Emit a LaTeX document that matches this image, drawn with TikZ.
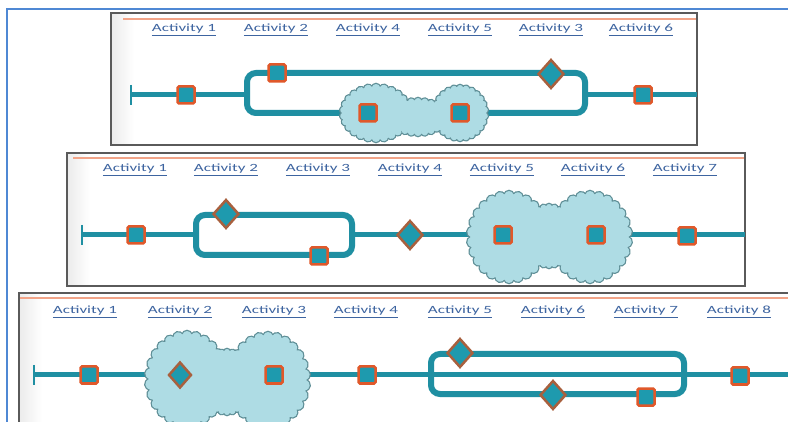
\documentclass[tikz,border=0pt]{standalone}
\usepackage{fontspec}
\newfontfamily\labfont[FakeStretch=1.55]{Carlito}
\usetikzlibrary{shapes.geometric,shapes.symbols}
\definecolor{teal1}{HTML}{1F8FA2}
\definecolor{sqfill}{HTML}{1E9AAE}
\definecolor{orng}{HTML}{E0582A}
\definecolor{dmd}{HTML}{A8603E}
\definecolor{cloudfill}{HTML}{AEDCE4}
\definecolor{cloudline}{HTML}{5E8E96}
\definecolor{boxline}{HTML}{5A5A5A}
\definecolor{labcol}{HTML}{3D64A0}
\definecolor{frameblue}{HTML}{4F88D4}
\definecolor{orline}{HTML}{F2A488}
\tikzset{
  flow/.style={draw=teal1, line width=5pt},
  branch/.style={draw=teal1, line width=6pt, rounded corners=9pt},
  sq/.style={draw=orng, fill=sqfill, line width=2.5pt, minimum size=17pt, inner sep=0pt, rounded corners=1.5pt},
  dia/.style={diamond, draw=dmd, fill=sqfill, line width=2.5pt, minimum width=26pt, minimum height=29pt, inner sep=0pt},
  lab/.style={font=\labfont\fontsize{11}{13}\selectfont, text=labcol, inner sep=0pt},
  cloudo/.style={cloud, cloud puffs=26, cloud puff arc=150, cloud ignores aspect, draw=cloudline, fill=cloudfill, line width=2.4pt, inner sep=0pt},
  cloudi/.style={cloud, cloud puffs=26, cloud puff arc=150, cloud ignores aspect, fill=cloudfill, inner sep=0pt},
  tickmark/.style={draw=teal1, line width=2.2pt},
  panel/.style={draw=boxline, line width=1.8pt},
  topline/.style={draw=orline, line width=1.2pt},
}
\begin{document}
\begin{tikzpicture}[x=1pt,y=-1pt]
\useasboundingbox (0,0) rectangle (788,422);
\begin{scope}
\clip (0,0) rectangle (788,422);
\fill[white] (0,0) rectangle (788,422);
\draw[frameblue, line width=1.5pt] (7,422) -- (7,9) -- (788,9);

% ---------------- Panel 1 ----------------
\fill[white] (111,13) rectangle (697,145);
\shade[left color=gray!15, right color=white] (112,14) rectangle (134,144);
\draw[topline] (123,19) -- (696,19);
\draw[panel] (111,13) rectangle (697,145);
\node[lab] (a11) at (184,30) {\underline{Activity 1}};
\node[lab] (a12) at (276,30) {\underline{Activity 2}};
\node[lab] (a14) at (368,30) {\underline{Activity 4}};
\node[lab] (a15) at (460,30) {\underline{Activity 5}};
\node[lab] (a13) at (551,30) {\underline{Activity 3}};
\node[lab] (a16) at (641,30) {\underline{Activity 6}};
\coordinate (p1s) at (131,95);
\coordinate (p1f) at (247,95);
\coordinate (p1j) at (585,95);
\coordinate (p1e) at (697,95);
\coordinate (p1t1) at (131,85);
\coordinate (p1t2) at (131,105);
\draw[flow] (p1s) -- (p1f);
\draw[flow] (p1j) -- (p1e);
\draw[tickmark] (p1t1) -- (p1t2);
\draw[branch] (247,73) rectangle (585,113);
\node[cloudo, minimum width=72pt, minimum height=58pt] (c1a) at (376,113) {};
\node[cloudo, minimum width=56pt, minimum height=56pt] (c1b) at (460,113) {};
\node[cloudo, minimum width=60pt, minimum height=38pt] (c1c) at (418,117) {};
\node[cloudi, minimum width=72pt, minimum height=58pt] (c1ai) at (376,113) {};
\node[cloudi, minimum width=56pt, minimum height=56pt] (c1bi) at (460,113) {};
\node[cloudi, minimum width=60pt, minimum height=38pt] (c1ci) at (418,117) {};
\node[sq] (s11) at (186,95) {};
\node[sq] (s12) at (277,73) {};
\node[sq] (s14) at (368,113) {};
\node[sq] (s15) at (460,113) {};
\node[dia] (d13) at (551,74) {};
\node[sq] (s16) at (643,95) {};

% ---------------- Panel 2 ----------------
\fill[white] (67,153) rectangle (745,286);
\shade[left color=gray!15, right color=white] (68,154) rectangle (90,285);
\draw[topline] (73,158) -- (744,158);
\draw[panel] (67,153) rectangle (745,286);
\node[lab] (a21) at (135,170) {\underline{Activity 1}};
\node[lab] (a22) at (226,170) {\underline{Activity 2}};
\node[lab] (a23) at (318,170) {\underline{Activity 3}};
\node[lab] (a24) at (410,170) {\underline{Activity 4}};
\node[lab] (a25) at (502,170) {\underline{Activity 5}};
\node[lab] (a26) at (593,170) {\underline{Activity 6}};
\node[lab] (a27) at (685,170) {\underline{Activity 7}};
\coordinate (p2s) at (82,235);
\coordinate (p2f) at (196,235);
\coordinate (p2j) at (352,235);
\coordinate (p2e) at (745,235);
\coordinate (p2t1) at (82,225);
\coordinate (p2t2) at (82,245);
\draw[flow] (p2s) -- (p2f);
\draw[flow] (p2j) -- (p2e);
\draw[tickmark] (p2t1) -- (p2t2);
\draw[branch] (196,215) rectangle (352,255);
\node[cloudo, minimum width=84pt, minimum height=92pt] (c2a) at (509,237) {};
\node[cloudo, minimum width=84pt, minimum height=92pt] (c2b) at (590,237) {};
\node[cloudo, minimum width=52pt, minimum height=64pt] (c2c) at (549,236) {};
\node[cloudi, minimum width=84pt, minimum height=92pt] (c2ai) at (509,237) {};
\node[cloudi, minimum width=84pt, minimum height=92pt] (c2bi) at (590,237) {};
\node[cloudi, minimum width=52pt, minimum height=64pt] (c2ci) at (549,236) {};
\node[sq] (s21) at (136,235) {};
\node[dia] (d22) at (226,214) {};
\node[sq] (s23) at (319,256) {};
\node[dia] (d24) at (410,235) {};
\node[sq] (s25) at (503,235) {};
\node[sq] (s26) at (596,235) {};
\node[sq] (s27) at (687,236) {};

% ---------------- Panel 3 ----------------
\fill[white] (19,293) rectangle (800,440);
\shade[left color=gray!15, right color=white] (20,294) rectangle (42,440);
\draw[topline] (20,298) -- (800,298);
\draw[panel] (19,293) rectangle (800,440);
\node[lab] (a31) at (85,312) {\underline{Activity 1}};
\node[lab] (a32) at (180,312) {\underline{Activity 2}};
\node[lab] (a33) at (274,312) {\underline{Activity 3}};
\node[lab] (a34) at (366,312) {\underline{Activity 4}};
\node[lab] (a35) at (460,312) {\underline{Activity 5}};
\node[lab] (a36) at (553,312) {\underline{Activity 6}};
\node[lab] (a37) at (646,312) {\underline{Activity 7}};
\node[lab] (a38) at (739,312) {\underline{Activity 8}};
\coordinate (p3s) at (34,375);
\coordinate (p3f) at (431,375);
\coordinate (p3j) at (684,375);
\coordinate (p3e) at (800,375);
\coordinate (p3t1) at (34,365);
\coordinate (p3t2) at (34,385);
\draw[flow] (p3s) -- (p3e);
\draw[tickmark] (p3t1) -- (p3t2);
\draw[branch] (431,354) rectangle (684,394);
\node[cloudo, minimum width=84pt, minimum height=96pt] (c3a) at (187,379) {};
\node[cloudo, minimum width=84pt, minimum height=96pt] (c3b) at (268,380) {};
\node[cloudo, minimum width=52pt, minimum height=66pt] (c3c) at (227,382) {};
\node[cloudi, minimum width=84pt, minimum height=96pt] (c3ai) at (187,379) {};
\node[cloudi, minimum width=84pt, minimum height=96pt] (c3bi) at (268,380) {};
\node[cloudi, minimum width=52pt, minimum height=66pt] (c3ci) at (227,382) {};
\node[sq] (s31) at (89,375) {};
\node[dia, minimum width=23pt, minimum height=26pt] (d32) at (180,375) {};
\node[sq] (s33) at (274,375) {};
\node[sq] (s34) at (367,375) {};
\node[dia] (d35) at (460,353) {};
\node[dia] (d36) at (553,395) {};
\node[sq] (s37) at (646,397) {};
\node[sq] (s38) at (740,376) {};
\end{scope}
\end{tikzpicture}
\end{document}
